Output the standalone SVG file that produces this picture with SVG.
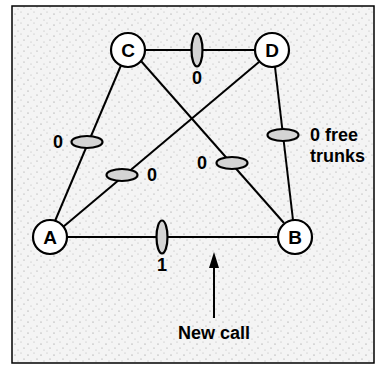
<svg xmlns="http://www.w3.org/2000/svg" width="377" height="369" viewBox="0 0 377 369">
<defs>
<pattern id="speck" width="13" height="11" patternUnits="userSpaceOnUse">
<rect width="13" height="11" fill="#f4f4f4"/>
<circle cx="2" cy="3" r="0.6" fill="#888"/>
<circle cx="8" cy="1" r="0.5" fill="#aaa"/>
<circle cx="11" cy="7" r="0.6" fill="#999"/>
<circle cx="5" cy="9" r="0.5" fill="#aaa"/>
</pattern>
<style>
.node circle{fill:#fff;stroke:#000;stroke-width:2.2}
.node text, .lbl{font-family:"Liberation Sans","Arial",sans-serif;font-weight:bold;fill:#000}
.node text{font-size:19px;text-anchor:middle;dominant-baseline:central}
.lbl{font-size:18px}
.edge{stroke:#000;stroke-width:2;fill:none}
.trunk{fill:#d4d4d4;stroke:#000;stroke-width:2.2}
</style>
</defs>
<rect x="0" y="0" width="377" height="369" fill="#fff"/>
<rect x="12" y="6" width="362" height="357" fill="url(#speck)" stroke="#000" stroke-width="1.5"/>
<g id="connectors">
<line class="edge" x1="145" y1="50" x2="255" y2="50"/>
<line class="edge" x1="122" y1="63" x2="55" y2="221"/>
<line class="edge" x1="141" y1="61" x2="284" y2="223"/>
<line class="edge" x1="259" y1="62" x2="63" y2="227"/>
<line class="edge" x1="275" y1="67" x2="293" y2="220"/>
<line class="edge" x1="67" y1="237" x2="278" y2="237"/>
<line class="edge" x1="214" y1="318" x2="214" y2="265"/>
<polygon points="214,252 209,268 219,268" fill="#000"/>
</g>
<g id="trunks">
<ellipse class="trunk" cx="197" cy="50" rx="5.5" ry="16.5"/>
<ellipse class="trunk" cx="87" cy="142" rx="15.5" ry="6"/>
<ellipse class="trunk" cx="122" cy="175" rx="15.5" ry="6"/>
<ellipse class="trunk" cx="232" cy="163" rx="15.5" ry="6"/>
<ellipse class="trunk" cx="283" cy="135" rx="15.5" ry="6"/>
<ellipse class="trunk" cx="162" cy="237" rx="5.5" ry="16.5"/>
</g>
<g id="labels">
<text class="lbl" x="197" y="84" text-anchor="middle">0</text>
<text class="lbl" x="58" y="148" text-anchor="middle">0</text>
<text class="lbl" x="152" y="181" text-anchor="middle">0</text>
<text class="lbl" x="202" y="169" text-anchor="middle">0</text>
<text class="lbl" x="310" y="141">0 free<tspan x="310" dy="21">trunks</tspan></text>
<text class="lbl" x="162" y="271" text-anchor="middle">1</text>
<text class="lbl" x="214" y="339" text-anchor="middle">New call</text>
</g>
<g id="node-C" class="node"><circle cx="128" cy="50" r="17"/><text x="128" y="50">C</text></g>
<g id="node-D" class="node"><circle cx="272" cy="50" r="17"/><text x="272" y="50">D</text></g>
<g id="node-A" class="node"><circle cx="50" cy="237" r="17"/><text x="50" y="237">A</text></g>
<g id="node-B" class="node"><circle cx="295" cy="237" r="17"/><text x="295" y="237">B</text></g>
</svg>
